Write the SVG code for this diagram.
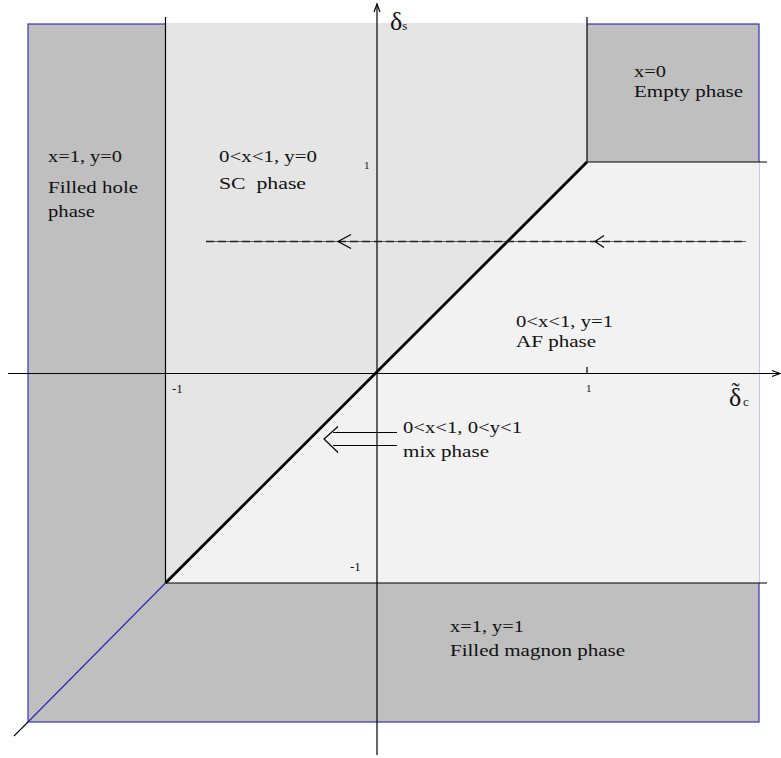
<svg xmlns="http://www.w3.org/2000/svg" width="781" height="758" viewBox="0 0 781 758">
<style>
text{font-family:"Liberation Serif","Times New Roman",serif;fill:#111}
.lab{font-size:17.5px}
.sm{font-size:11px}
.md{font-size:13px}
.ln{stroke:#000;stroke-width:1.2;fill:none}
</style>
<rect width="781" height="758" fill="#fff"/>
<g id="regions">
<rect id="outer" x="28" y="24" width="731" height="698" fill="#bfbfbf" stroke="#3535b5" stroke-width="1.2"/>
<polygon id="sc-region" points="165.5,23 587,23 587,162 165.5,583" fill="#e5e5e5"/>
<polygon id="af-region" points="587,162 759.6,162 759.6,583 165.5,583" fill="#f2f2f2"/>
</g>
<g id="connectors">
<line class="ln" x1="165.5" y1="17" x2="165.5" y2="583"/>
<line class="ln" x1="165.5" y1="583" x2="767" y2="583"/>
<line class="ln" x1="587" y1="17" x2="587" y2="162"/>
<line class="ln" x1="587" y1="162" x2="767" y2="162"/>
<line x1="165.5" y1="583" x2="28" y2="722" stroke="#2525b0" stroke-width="1.1"/>
<line x1="28" y1="722" x2="14" y2="736" stroke="#000" stroke-width="1.1"/>
<line x1="165.5" y1="583" x2="587" y2="162" stroke="#000" stroke-width="2.8"/>
<line class="ln" x1="377" y1="4" x2="377" y2="755"/>
<polyline class="ln" points="374,12 377,4 380,12"/>
<line class="ln" x1="8" y1="373.5" x2="780" y2="373.5"/>
<polyline class="ln" points="772,370.5 780,373.5 772,376.5"/>
<line class="ln" x1="587" y1="367" x2="587" y2="373.5"/>
<line x1="206" y1="241.5" x2="746" y2="241.5" stroke="#000" stroke-width="0.6"/>
<line x1="206" y1="241.5" x2="746" y2="241.5" stroke="#222" stroke-width="1.3" stroke-dasharray="8,4"/>
<polyline class="ln" points="351,234.5 338,241.5 351,248.5"/>
<polyline class="ln" points="604,235.5 595,241.5 604,247.5"/>
<line class="ln" x1="333" y1="432.5" x2="397" y2="432.5"/>
<line class="ln" x1="333" y1="445.5" x2="397" y2="445.5"/>
<polyline class="ln" points="338,426.5 324,439 338,452.5"/>
</g>
<g id="axis-labels">
<text x="390" y="30" style="font-size:26px">δ<tspan style="font-size:13px">s</tspan></text>
<text x="729" y="406" style="font-size:26px">δ<tspan x="731.5" dy="-7" style="font-size:24px">˜</tspan><tspan x="743" dy="7" style="font-size:13px">c</tspan></text>
<text class="sm" x="586" y="392">1</text>
<text class="md" x="172" y="393">-1</text>
<text class="sm" x="364" y="169">1</text>
<text class="md" x="350" y="571">-1</text>
</g>
<g id="filled-hole">
<text class="lab" x="48" y="162" textLength="74" lengthAdjust="spacingAndGlyphs">x=1, y=0</text>
<text class="lab" x="48" y="193" textLength="90" lengthAdjust="spacingAndGlyphs">Filled hole</text>
<text class="lab" x="48" y="217" textLength="47" lengthAdjust="spacingAndGlyphs">phase</text>
</g>
<g id="sc-phase">
<text class="lab" x="219" y="162" textLength="98" lengthAdjust="spacingAndGlyphs">0&lt;x&lt;1, y=0</text>
<text class="lab" x="219" y="189" textLength="87" lengthAdjust="spacingAndGlyphs" xml:space="preserve">SC  phase</text>
</g>
<g id="empty-phase">
<text class="lab" x="634" y="77" textLength="32" lengthAdjust="spacingAndGlyphs">x=0</text>
<text class="lab" x="634" y="97" textLength="109" lengthAdjust="spacingAndGlyphs">Empty phase</text>
</g>
<g id="af-phase">
<text class="lab" x="516" y="327" textLength="97" lengthAdjust="spacingAndGlyphs">0&lt;x&lt;1, y=1</text>
<text class="lab" x="516" y="347" textLength="80" lengthAdjust="spacingAndGlyphs">AF phase</text>
</g>
<g id="mix-phase">
<text class="lab" x="403" y="433" textLength="119" lengthAdjust="spacingAndGlyphs">0&lt;x&lt;1, 0&lt;y&lt;1</text>
<text class="lab" x="403" y="457" textLength="86" lengthAdjust="spacingAndGlyphs">mix phase</text>
</g>
<g id="filled-magnon">
<text class="lab" x="450" y="632" textLength="74" lengthAdjust="spacingAndGlyphs">x=1, y=1</text>
<text class="lab" x="450" y="656" textLength="175" lengthAdjust="spacingAndGlyphs">Filled magnon phase</text>
</g>
</svg>
